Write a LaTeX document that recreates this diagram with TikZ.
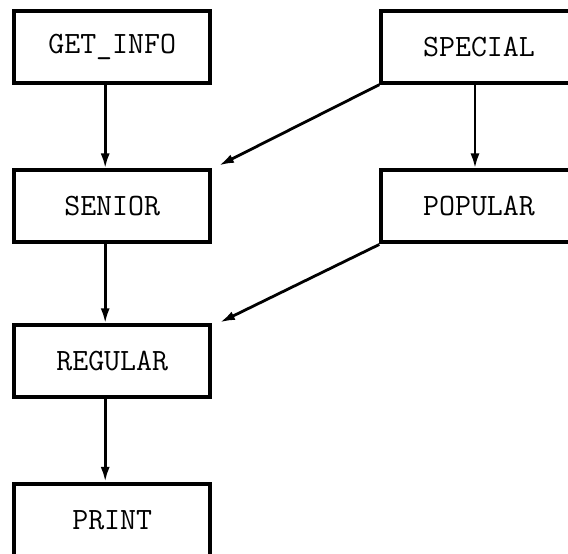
\documentclass[tikz,border=0pt]{standalone}
\usepackage{tikz}
\usetikzlibrary{arrows.meta}

\tikzset{
	box/.style = {draw, line width=4pt, rectangle,
		minimum width=195.5pt, minimum height=72pt,
		inner sep=0pt, font=\fontsize{31}{37}\selectfont\ttfamily},
	flow/.style = {line width=2.8pt, -{Latex[length=15pt,width=9pt]}}
}

\begin{document}
\begin{tikzpicture}[x=1pt,y=1pt]
		 %\draw[help lines] (0,0) grid (568,554);
		 \useasboundingbox (0,0) rectangle (568,554);
		 \begin{scope}
		 \clip (0,0) rectangle (568,554);

		 \node[box] (getinfo) at (112.2,507.3) {GET\_INFO};
		 \node[box] (special) at (479,507.3) {SPECIAL};

		 \node[box] (senior) at (112.2,347.5) {SENIOR};
		 \node[box] (popular) at (479,347.5) {POPULAR};

		 \node[box] (regular) at (112.2,192.6) {REGULAR};

		 \node[box] (print) at (112.2,34) {PRINT};

		 \draw[flow] ([xshift=-7pt]getinfo.south) -- ([xshift=-7pt]senior.north);
		 \draw[flow] ([xshift=-4pt]special.south) -- ([xshift=-4pt]popular.north);
		 \draw[flow] (special.south west) -- ([shift={(7pt,3pt)}]senior.north east);
		 \draw[flow] ([xshift=-7pt]senior.south) -- ([xshift=-7pt]regular.north);
		 \draw[flow] (popular.south west) -- ([shift={(8pt,1pt)}]regular.north east);
		 \draw[flow] ([xshift=-7pt]regular.south) -- ([xshift=-7pt]print.north);
		 \end{scope}
\end{tikzpicture}
\end{document}
